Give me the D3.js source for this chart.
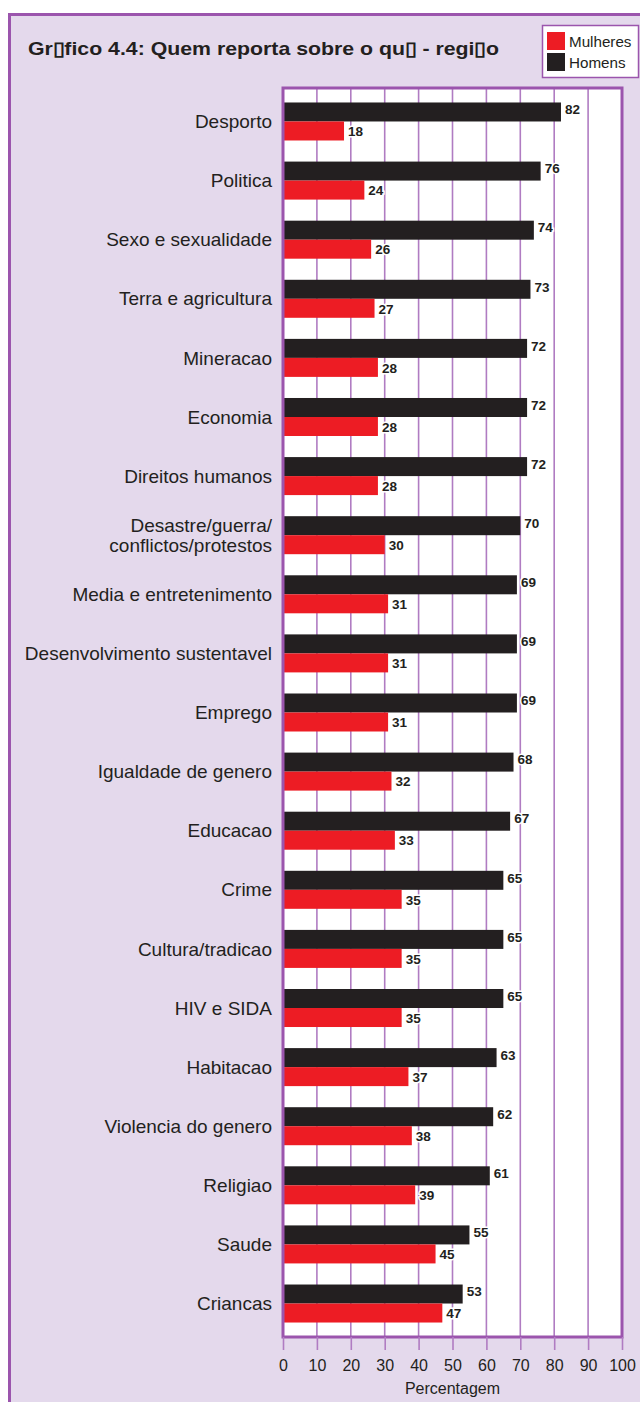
<!DOCTYPE html>
<html>
<head>
<meta charset="utf-8">
<script src="https://cdn.jsdelivr.net/npm/d3@7/dist/d3.min.js"></script>
<style>
  html, body { margin: 0; padding: 0; background: #ffffff; }
  svg { display: block; font-family: "Liberation Sans", Arial, Helvetica, sans-serif; }
</style>
</head>
<body>
<svg id="chart" width="640" height="1402"></svg>
<script>
// Topics, in display order (top to bottom)
const categories = [
  "Desporto", "Politica", "Sexo e sexualidade", "Terra e agricultura", "Mineracao",
  "Economia", "Direitos humanos", "Desastre/guerra/\nconflictos/protestos",
  "Media e entretenimento", "Desenvolvimento sustentavel", "Emprego",
  "Igualdade de genero", "Educacao", "Crime", "Cultura/tradicao", "HIV e SIDA",
  "Habitacao", "Violencia do genero", "Religiao", "Saude", "Criancas"
];
// Share of reporters (%) by sex
const homens   = [82, 76, 74, 73, 72, 72, 72, 70, 69, 69, 69, 68, 67, 65, 65, 65, 63, 62, 61, 55, 53];
const mulheres = [18, 24, 26, 27, 28, 28, 28, 30, 31, 31, 31, 32, 33, 35, 35, 35, 37, 38, 39, 45, 47];
const seriesNames = ["Homens", "Mulheres"];
const xTicks = [0, 10, 20, 30, 40, 50, 60, 70, 80, 90, 100];

const colors = { Homens: "#231f20", Mulheres: "#ed1c24" };
const purple = "#9b55ad";
const gridPurple = "#b07cc2";

const rows = categories.map((c, i) => ({ cat: c, Homens: homens[i], Mulheres: mulheres[i] }));

const svg = d3.select("#chart");

// outer panel
svg.append("rect")
  .attr("x", 9.5).attr("y", 14.5)
  .attr("width", 640).attr("height", 1400)
  .attr("fill", "#e4d9ec")
  .attr("stroke", purple).attr("stroke-width", 3);

// title
svg.append("text")
  .attr("x", 28).attr("y", 54.5)
  .attr("font-size", 18.5).attr("font-weight", "bold")
  .attr("textLength", 471).attr("lengthAdjust", "spacingAndGlyphs")
  .attr("fill", "#231f20")
  .text("Gr\u25AFfico 4.4: Quem reporta sobre o qu\u25AF - regi\u25AFo");

// plot geometry
const plot = { left: 283, right: 622, top: 88, bottom: 1337 };

const x = d3.scaleLinear().domain([0, 100]).range([plot.left, plot.right]);
const y = d3.scaleBand().domain(categories)
  .range([plot.top, plot.bottom])
  .paddingInner(0.357).paddingOuter(0.245);
const ySub = d3.scaleBand().domain(seriesNames).range([0, y.bandwidth()]);

// plot background
svg.append("rect")
  .attr("x", plot.left).attr("y", plot.top)
  .attr("width", plot.right - plot.left).attr("height", plot.bottom - plot.top)
  .attr("fill", "#ffffff");

// vertical gridlines
svg.append("g")
  .selectAll("line")
  .data(xTicks.slice(1, -1))
  .join("line")
  .attr("x1", d => x(d)).attr("x2", d => x(d))
  .attr("y1", plot.top).attr("y2", plot.bottom)
  .attr("stroke", gridPurple).attr("stroke-width", 1.6);

// bars
const groups = svg.append("g")
  .selectAll("g")
  .data(rows)
  .join("g")
  .attr("transform", d => `translate(0,${y(d.cat)})`);

groups.selectAll("rect")
  .data(d => seriesNames.map(s => ({ s, v: d[s] })))
  .join("rect")
  .attr("x", x(0))
  .attr("y", d => ySub(d.s))
  .attr("width", d => x(d.v) - x(0))
  .attr("height", ySub.bandwidth())
  .attr("fill", d => colors[d.s]);

// value labels
groups.selectAll("text")
  .data(d => seriesNames.map(s => ({ s, v: d[s] })))
  .join("text")
  .attr("x", d => x(d.v) + 4)
  .attr("y", d => ySub(d.s) + ySub.bandwidth() / 2 + (d.s === "Homens" ? -2.5 : 0.5))
  .attr("dy", "0.35em")
  .attr("font-size", 13.5).attr("font-weight", "bold")
  .attr("fill", "#231f20")
  .attr("stroke", "#ffffff").attr("stroke-width", 3).attr("paint-order", "stroke")
  .text(d => d.v);

// category labels
const catLabels = svg.append("g")
  .selectAll("text")
  .data(categories)
  .join("text")
  .attr("x", 272)
  .attr("y", d => y(d) + y.bandwidth() / 2)
  .attr("text-anchor", "end")
  .attr("font-size", 19)
  .attr("fill", "#231f20");

catLabels.each(function(d) {
  const lines = d.split("\n");
  const t = d3.select(this);
  const first = -(lines.length - 1) / 2 * 1.05 + 0.35;
  lines.forEach((ln, i) => {
    t.append("tspan")
      .attr("x", 272)
      .attr("dy", i === 0 ? `${first}em` : "1.05em")
      .text(ln);
  });
});

// plot frame
svg.append("rect")
  .attr("x", plot.left).attr("y", plot.top)
  .attr("width", plot.right - plot.left).attr("height", plot.bottom - plot.top)
  .attr("fill", "none")
  .attr("stroke", purple).attr("stroke-width", 3);

// x axis
const xAxis = d3.axisBottom(x)
  .tickValues(xTicks)
  .tickSize(13)
  .tickPadding(10)
  .tickFormat(d3.format("d"));

const axisG = svg.append("g")
  .attr("transform", `translate(0,${plot.bottom})`)
  .call(xAxis);
axisG.select(".domain").remove();
axisG.selectAll(".tick line").attr("stroke", gridPurple).attr("stroke-width", 1.6);
axisG.selectAll(".tick text")
  .attr("font-size", 16)
  .attr("font-family", "'Liberation Sans', Arial, sans-serif")
  .attr("fill", "#231f20");

svg.append("text")
  .attr("x", x(50)).attr("y", 1394)
  .attr("text-anchor", "middle")
  .attr("font-size", 16)
  .attr("fill", "#231f20")
  .text("Percentagem");

// legend
const legend = svg.append("g");
legend.append("rect")
  .attr("x", 542.5).attr("y", 25.5)
  .attr("width", 96).attr("height", 52)
  .attr("fill", "#ffffff")
  .attr("stroke", purple).attr("stroke-width", 1.5);
const legItems = ["Mulheres", "Homens"];
legItems.forEach((name, i) => {
  legend.append("rect")
    .attr("x", 547).attr("y", 32 + i * 21)
    .attr("width", 18).attr("height", 18)
    .attr("fill", colors[name]);
  legend.append("text")
    .attr("x", 569).attr("y", 42 + i * 21)
    .attr("dy", "0.35em")
    .attr("font-size", 15.2)
    .attr("fill", "#231f20")
    .text(name);
});
</script>
</body>
</html>
